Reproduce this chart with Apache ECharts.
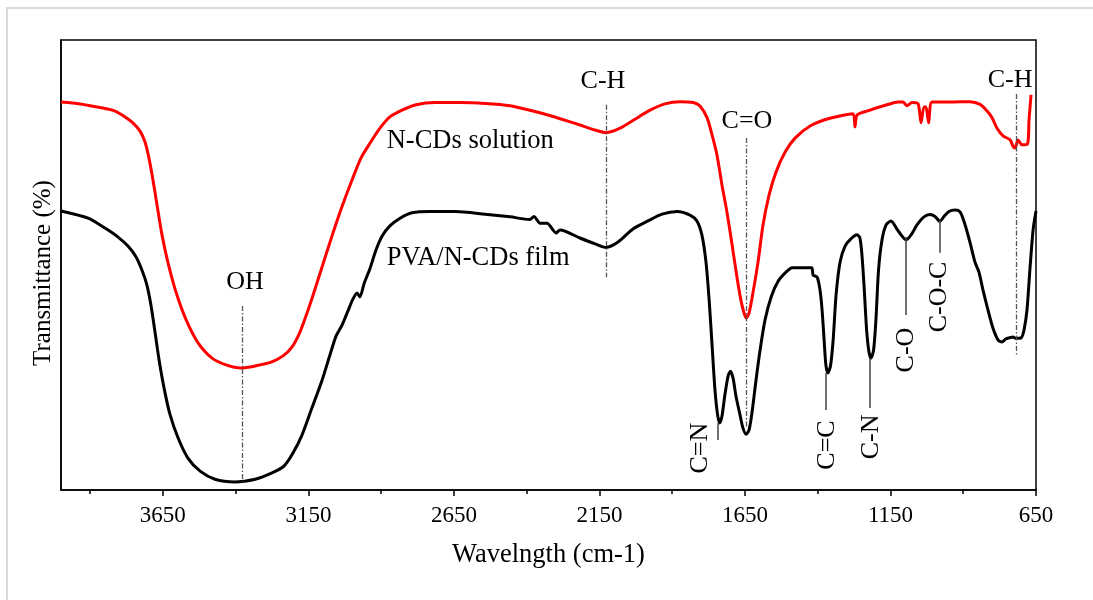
<!DOCTYPE html>
<html>
<head>
<meta charset="utf-8">
<script src="https://cdn.jsdelivr.net/npm/echarts@6/dist/echarts.min.js"></script>
<style>html,body{margin:0;padding:0;background:#fff;}#c{width:1093px;height:600px;}</style>
</head>
<body>
<div id="c"></div>
<script>
// ---- DATA ----
const xTickLabels = [3650, 3150, 2650, 2150, 1650, 1150, 650];
const xMinorTicks = [3900, 3400, 2900, 2400, 1900, 1400, 900];

const solutionWavenumber = [4000,3935,3866,3814,3780,3753,3729,3711,3698,3684,3670,3653,3632,3605,3570,3529,3481,3433,3382,3330,3278,3237,3206,3179,3151,3124,3093,3062,3031,3000,2969,2938,2904,2870,2828,2780,2715,2629,2543,2457,2389,2303,2217,2165,2127,2079,2028,1976,1925,1873,1828,1804,1780,1763,1746,1729,1712,1694,1677,1664,1653,1646,1636,1622,1605,1588,1567,1543,1512,1478,1426,1358,1279,1272,1265,1231,1162,1124,1107,1093,1076,1055,1045,1035,1028,1019,1007,945,877,842,818,801,784,763,739,729,722,712,698,679,674,667];
const solutionT = [86.2,85.8,85.0,84.2,82.9,81.6,79.8,77.3,73.8,68.9,63.3,56.7,50.4,44.0,37.8,32.7,29.3,27.8,27.1,27.6,28.4,29.8,31.8,35.1,40.0,45.3,51.6,57.8,63.6,68.9,73.8,77.1,80.4,82.9,84.4,85.6,86.1,86.1,85.9,85.4,84.4,82.9,81.1,80.0,79.4,80.4,82.4,84.4,85.8,86.3,86.1,85.3,82.7,78.9,74.4,67.8,61.8,54.4,47.1,42.2,39.3,38.2,39.3,44.0,50.7,58.9,65.6,70.7,75.1,78.2,80.9,82.6,83.6,80.7,83.3,84.2,85.6,86.2,86.2,85.4,86.1,85.8,81.6,85.1,85.1,81.6,86.2,86.2,86.3,85.7,84.2,82.7,80.4,78.7,77.8,76.4,76.0,77.8,76.7,76.9,82.2,87.8];

const filmWavenumber = [4000,3907,3849,3804,3770,3742,3722,3705,3691,3677,3663,3646,3626,3598,3564,3522,3471,3402,3333,3275,3234,3203,3172,3138,3103,3076,3055,3034,3014,2997,2983,2973,2959,2938,2918,2897,2870,2835,2794,2732,2646,2543,2457,2389,2375,2354,2330,2299,2285,2217,2165,2127,2086,2035,1983,1935,1883,1839,1815,1798,1784,1773,1763,1753,1744,1737,1729,1719,1708,1700,1691,1681,1667,1657,1646,1636,1626,1612,1598,1581,1560,1536,1509,1488,1421,1416,1402,1392,1385,1378,1372,1365,1356,1347,1337,1323,1306,1286,1265,1255,1248,1241,1232,1224,1217,1208,1200,1191,1179,1165,1148,1128,1110,1097,1079,1059,1035,1014,997,980,966,949,928,911,897,877,860,846,832,815,798,780,767,753,743,729,719,701,691,681,671,660,650];
const filmT = [62.0,60.4,58.2,56.2,54.2,51.8,48.9,45.6,41.1,35.1,28.9,22.7,16.9,11.6,7.1,4.2,2.4,1.8,2.4,3.8,5.3,8.2,12.2,18.2,24.4,30.0,34.2,36.7,39.8,42.4,43.8,42.9,45.8,49.3,53.3,56.4,58.7,60.4,61.6,61.9,61.9,61.3,60.7,60.1,60.8,59.3,59.3,57.1,57.8,56.0,54.7,53.9,55.1,58.0,59.8,61.3,61.9,61.1,59.8,56.7,50.7,42.2,32.2,22.2,16.7,14.9,16.4,21.1,25.3,26.4,24.9,20.9,16.7,13.8,12.4,13.3,17.1,24.4,31.1,37.8,42.9,46.4,48.4,49.4,49.4,47.8,47.3,44.4,40.0,33.3,27.8,26.0,27.6,33.3,43.3,50.7,54.2,55.8,56.7,56.0,52.2,45.6,35.6,30.7,29.3,31.1,37.8,48.9,55.6,58.9,59.8,58.0,56.4,55.6,56.7,58.9,60.7,61.2,60.8,59.7,60.8,61.9,62.2,61.8,59.6,55.1,50.7,48.4,44.4,40.0,36.0,33.3,32.9,33.6,33.8,34.0,33.7,33.8,35.6,40.0,48.9,57.8,62.0];

const seriesNames = ['N-CDs solution', 'PVA/N-CDs film'];
const peakLabels = ['OH', 'C-H', 'C=O', 'C-H', 'C=N', 'C=C', 'C-N', 'C-O', 'C-O-C'];
const peakWavenumbers = [3378, 2127, 1646, 719, 1742, 1372, 1220, 1097, 980];

// ---- LAYOUT (annotation placement, in axis units) ----
const annotLayout = [
  {y1: 40.9, y2: 1.8,  dash: true,  lx: 3368, ly: 46.2, rot: 0},
  {y1: 85.6, y2: 47.3, dash: true,  lx: 2138, ly: 90.9, rot: 0},
  {y1: 78.2, y2: 13.8, dash: true,  lx: 1643, ly: 82.0, rot: 0},
  {y1: 88.0, y2: 30.0, dash: true,  lx: 739,  ly: 91.0, rot: 0},
  {y1: 14.9, y2: 11.1, dash: false, lx: 1804, ly: 9.3,  rot: 90},
  {y1: 26.0, y2: 17.8, dash: false, lx: 1369, ly: 10.0, rot: 90},
  {y1: 29.3, y2: 18.2, dash: false, lx: 1217, ly: 11.8, rot: 90},
  {y1: 56.2, y2: 38.9, dash: false, lx: 1097, ly: 31.1, rot: 90},
  {y1: 60.0, y2: 52.7, dash: false, lx: 981,  ly: 42.9, rot: 90}
];
const seriesLabelPos = [[2881, 77.6], [2881, 51.6]];

const FONT = "'Liberation Serif', 'Times New Roman', serif";
const zip = (a, b) => a.map((v, i) => [v, b[i]]);

const dashLines = [], solidLines = [], annotTexts = [];
annotLayout.forEach((L, i) => {
  const w = peakWavenumbers[i];
  const seg = [{coord: [w, L.y1]}, {coord: [w, L.y2]}];
  (L.dash ? dashLines : solidLines).push(seg);
  annotTexts.push({
    value: [L.lx, L.ly], name: peakLabels[i],
    label: {rotate: L.rot}
  });
});

const chart = echarts.init(document.getElementById('c'), null, {renderer: 'canvas'});
chart.setOption({
  animation: false,
  backgroundColor: '#fff',
  graphic: [{
    type: 'rect', silent: true, z: -10,
    shape: {x: 7, y: 8, width: 1300, height: 900},
    style: {fill: 'none', stroke: '#d9d9d9', lineWidth: 2}
  }],
  grid: {left: 61, right: 57, top: 40, bottom: 110, show: true, borderColor: '#000', borderWidth: 1.5, backgroundColor: 'transparent'},
  xAxis: [{
    type: 'value', min: 650, max: 4000, inverse: true,
    name: 'Wavelngth (cm-1)', nameLocation: 'middle', nameGap: 52,
    nameTextStyle: {fontFamily: FONT, fontSize: 26.5, color: '#000'},
    axisLine: {show: true, lineStyle: {color: '#000', width: 1.5}},
    axisTick: {show: true, length: 6, customValues: xTickLabels, lineStyle: {color: '#000', width: 1.5}},
    axisLabel: {show: true, customValues: xTickLabels, formatter: v => String(v), fontFamily: FONT, fontSize: 23, color: '#000', margin: 14},
    splitLine: {show: false}
  }, {
    type: 'value', min: 650, max: 4000, inverse: true, position: 'bottom',
    axisLine: {show: false},
    axisTick: {show: true, length: 4, customValues: xMinorTicks, lineStyle: {color: '#000', width: 1.5}},
    axisLabel: {show: false},
    splitLine: {show: false}
  }],
  yAxis: {
    type: 'value', min: 0, max: 100,
    name: 'Transmittance (%)', nameLocation: 'middle', nameGap: 5,
    nameTextStyle: {fontFamily: FONT, fontSize: 25, color: '#000', padding: [0, 16, 0, 0]},
    axisLine: {show: true, lineStyle: {color: '#000', width: 1.5}},
    axisTick: {show: false}, axisLabel: {show: false}, splitLine: {show: false}
  },
  series: [
    {
      name: seriesNames[1], type: 'line', data: zip(filmWavenumber, filmT),
      symbol: 'none', smooth: 0.25,
      lineStyle: {color: '#000', width: 3}, z: 3
    },
    {
      name: seriesNames[0], type: 'line', data: zip(solutionWavenumber, solutionT),
      symbol: 'none', smooth: 0.25,
      lineStyle: {color: '#ff0000', width: 3}, z: 4
    },
    {
      type: 'line', data: [], silent: true,
      markLine: {silent: true, symbol: 'none', label: {show: false}, animation: false,
        lineStyle: {color: '#555', width: 1.3, type: [5, 2, 1.5, 2]}, data: dashLines}
    },
    {
      type: 'line', data: [], silent: true,
      markLine: {silent: true, symbol: 'none', label: {show: false}, animation: false,
        lineStyle: {color: '#404040', width: 1.5, type: 'solid'}, data: solidLines}
    },
    {
      type: 'scatter', symbolSize: 0, silent: true, z: 6,
      itemStyle: {opacity: 1},
      data: annotTexts,
      label: {show: true, position: 'inside', formatter: '{b}', fontFamily: FONT, fontSize: 26, color: '#000', opacity: 1, textBorderWidth: 0, align: 'center', verticalAlign: 'middle'}
    },
    {
      type: 'scatter', symbolSize: 0, silent: true, z: 6,
      itemStyle: {opacity: 1},
      data: seriesLabelPos.map((p, i) => ({value: p, name: seriesNames[i]})),
      label: {show: true, position: 'right', distance: 0, formatter: '{b}', fontFamily: FONT, fontSize: 26.5, color: '#000', opacity: 1, textBorderWidth: 0}
    }
  ]
});
</script>
</body>
</html>
